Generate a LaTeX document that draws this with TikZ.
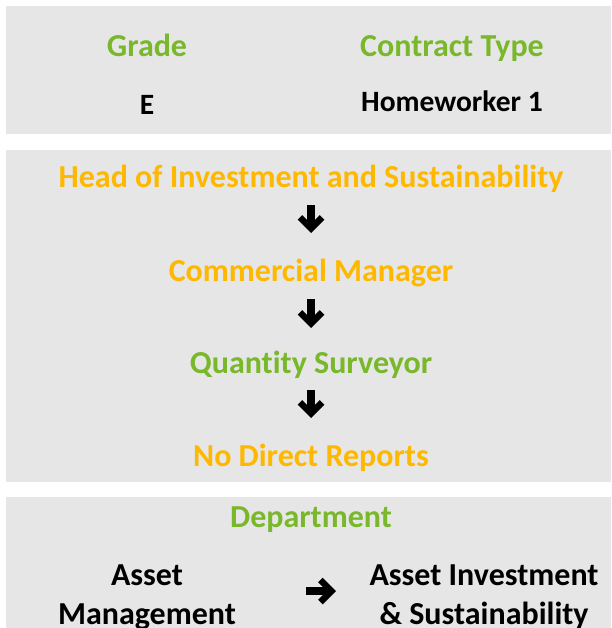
\documentclass[tikz,border=0pt]{standalone}
\usepackage{fontspec}
\setmainfont[Ligatures=NoCommon]{Carlito}
\usetikzlibrary{arrows.meta}
\definecolor{panelgray}{HTML}{E7E6E6}
\definecolor{gradegreen}{HTML}{78B82A}
\definecolor{roleorange}{HTML}{FFB800}
\tikzset{
        lbl/.style={font=\fontsize{32}{39}\selectfont\bfseries, inner sep=0pt, align=center},
        green/.style={lbl, text=gradegreen, anchor=base},
        orange/.style={lbl, text=roleorange, anchor=base},
        plain/.style={lbl, text=black},
        small/.style={plain, anchor=base, font=\fontsize{29.5}{36}\selectfont\bfseries},
        downarr/.style={line width=8pt, -{Straight Barb[length=11pt,width=22pt,line width=6.5pt]}},
}
\begin{document}
\begin{tikzpicture}[x=1pt,y=-1pt]
        \useasboundingbox (0,0) rectangle (611,628);
        \fill[panelgray] (6,6) rectangle (611,134);
        \fill[panelgray] (6,150) rectangle (611,482);
        \fill[panelgray] (6,497) rectangle (611,628);

        \node[green] (grade) at (147,57) {Grade};
        \node[green] (ctype) at (452,57) {Contract Type};
        \node[small] (gradeval) at (147,115) {E};
        \node[small] (ctypeval) at (452,112) {Homeworker 1};

        \node[orange] (head) at (311,188) {Head of Investment and Sustainability};
        \node[orange] (comm) at (311,281) {Commercial Manager};
        \node[green] (qs) at (311,373) {Quantity Surveyor};
        \node[orange] (nodr) at (311,466) {No Direct Reports};

        \node[green] (dept) at (311,527) {Department};
        \node[plain] (olddept) at (147,597.5) {Asset\\Management};
        \node[plain] (newdept) at (484,597.5) {Asset Investment\\\& Sustainability};

        \draw[downarr, shorten <=17pt, shorten >=48pt] (head.base) -- (comm.base);
        \draw[downarr, shorten <=18pt, shorten >=45pt] (comm.base) -- (qs.base);
        \draw[downarr, shorten <=17pt, shorten >=48pt] (qs.base) -- (nodr.base);
        \draw[downarr, shorten <=159pt, shorten >=148pt] ([yshift=6.5pt]olddept.center) -- ([yshift=6.5pt]newdept.center);
\end{tikzpicture}
\end{document}
